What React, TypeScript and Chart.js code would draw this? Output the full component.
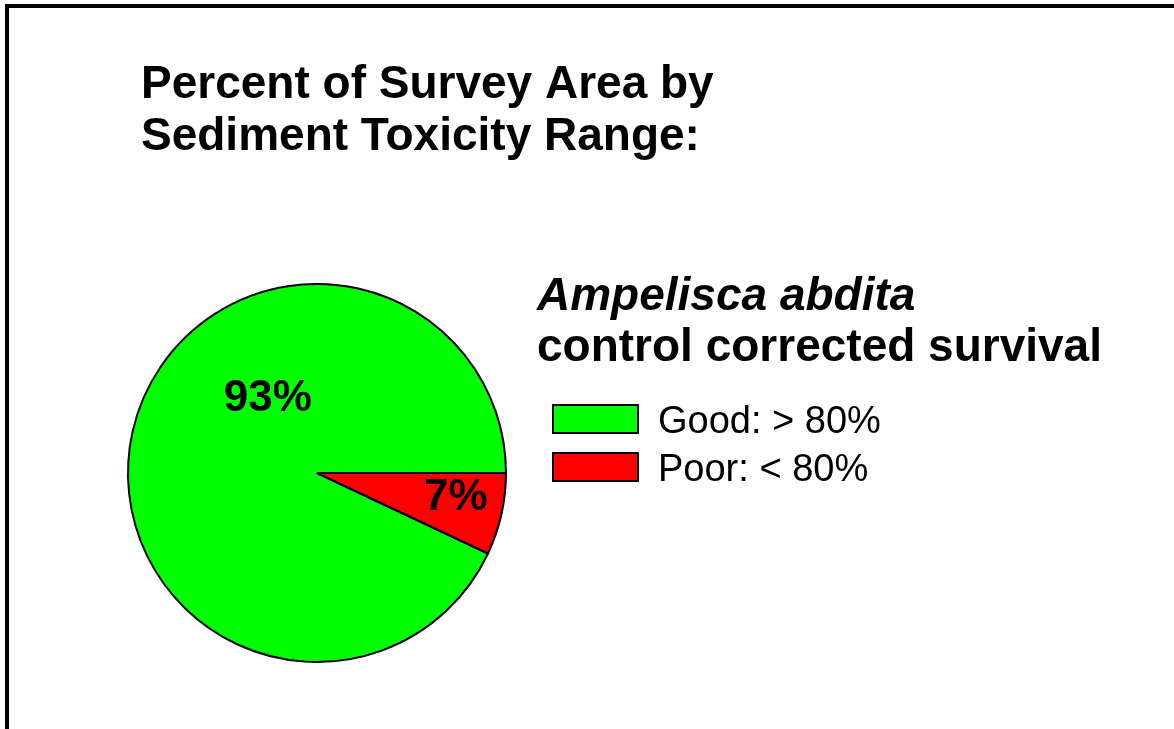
import React, { useEffect, useRef } from "react";
import { Chart, registerables } from "chart.js";

Chart.register(...registerables);

const titleLines = ["Percent of Survey Area by", "Sediment Toxicity Range:"];
const legendTitleItalic = "Ampelisca abdita";
const legendTitleLine2 = "control corrected survival";
const categories = ["Good: > 80%", "Poor: < 80%"];
const values = [93, 7];
const colors = ["#00ff00", "#ff0000"];
// label offsets relative to pie center, as fractions of radius
const labelOffsets = [
  [-0.26, -0.39],
  [0.735, 0.13],
];

const FONT = '"Liberation Sans", Arial, sans-serif';

const decorPlugin = {
  id: "decor",
  afterDraw(chart: any) {
    const ctx = chart.ctx;
    ctx.save();
    // frame lines (top and left)
    ctx.fillStyle = "#000";
    ctx.fillRect(5, 4, 1174 - 5, 4);
    ctx.fillRect(5, 4, 4, 729 - 4);

    // title
    ctx.fillStyle = "#000";
    ctx.textAlign = "left";
    ctx.textBaseline = "alphabetic";
    ctx.font = `bold 46px ${FONT}`;
    ctx.fillText(titleLines[0], 141, 98);
    ctx.fillText(titleLines[1], 141, 150);

    // legend title
    ctx.font = `italic bold 46px ${FONT}`;
    ctx.fillText(legendTitleItalic, 537, 310);
    ctx.font = `bold 46px ${FONT}`;
    ctx.fillText(legendTitleLine2, 537, 361);

    // legend items
    ctx.font = `38px ${FONT}`;
    categories.forEach((c, i) => {
      const y = 405 + i * 48;
      ctx.fillStyle = colors[i];
      ctx.fillRect(553, y, 85, 28);
      ctx.lineWidth = 2;
      ctx.strokeStyle = "#000";
      ctx.strokeRect(553, y, 85, 28);
      ctx.fillStyle = "#000";
      ctx.fillText(c, 658, y + 28);
    });

    // slice labels
    const meta = chart.getDatasetMeta(0);
    const total = values.reduce((a, b) => a + b, 0);
    ctx.font = `bold 44px ${FONT}`;
    ctx.textAlign = "center";
    ctx.textBaseline = "middle";
    meta.data.forEach((arc: any, i: number) => {
      const r = arc.outerRadius;
      const x = arc.x + labelOffsets[i][0] * r;
      const y = arc.y + labelOffsets[i][1] * r;
      const pct = Math.round((values[i] / total) * 100);
      ctx.fillText(`${pct}%`, x, y);
    });
    ctx.restore();
  },
};

export default function App() {
  const ref = useRef<HTMLCanvasElement | null>(null);
  useEffect(() => {
    document.body.style.margin = "0";
    const total = values.reduce((a, b) => a + b, 0);
    const chart = new Chart(ref.current as HTMLCanvasElement, {
      type: "pie",
      data: {
        labels: categories,
        datasets: [
          {
            data: values,
            backgroundColor: colors,
            borderColor: "#000",
            borderWidth: 2,
            hoverOffset: 0,
          },
        ],
      },
      options: {
        responsive: false,
        animation: false,
        rotation: 90 + (360 * values[1]) / total,
        layout: { padding: { left: 127, right: 667, top: 283, bottom: 66 } },
        plugins: {
          legend: { display: false },
          tooltip: { enabled: false },
          title: { display: false },
        },
        events: [],
      },
      plugins: [decorPlugin],
    });
    return () => chart.destroy();
  }, []);
  return (
    <div style={{ position: "absolute", left: 0, top: 0, width: 1174, height: 729, background: "#fff" }}>
      <canvas ref={ref} width={1174} height={729} style={{ width: 1174, height: 729, display: "block" }} />
    </div>
  );
}
